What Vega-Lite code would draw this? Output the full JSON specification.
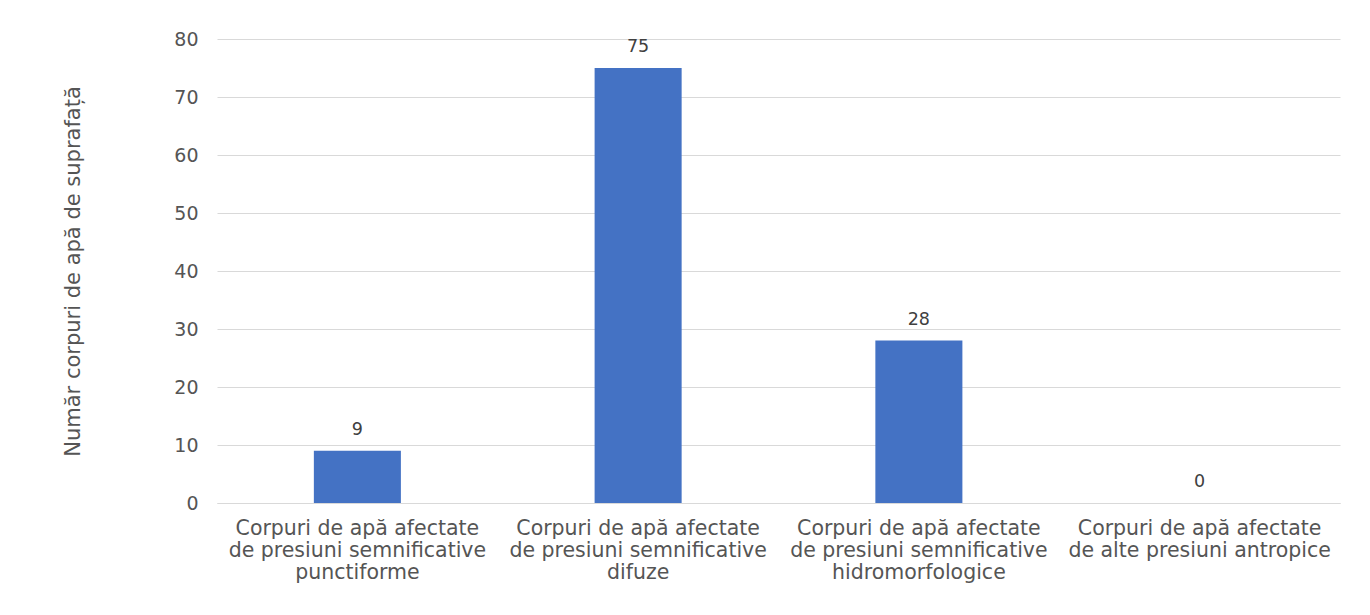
{
  "$schema": "https://vega.github.io/schema/vega-lite/v6.json",
  "width": 1123,
  "height": 464,
  "autosize": {"type": "none"},
  "padding": {"left": 217, "top": 39, "right": 30, "bottom": 112},
  "background": "white",
  "config": {
    "view": {"stroke": null},
    "font": "DejaVu Sans"
  },
  "data": {
    "values": [
      {"categorie": "Corpuri de apă afectate|de presiuni semnificative|punctiforme", "valoare": 9},
      {"categorie": "Corpuri de apă afectate|de presiuni semnificative|difuze", "valoare": 75},
      {"categorie": "Corpuri de apă afectate|de presiuni semnificative|hidromorfologice", "valoare": 28},
      {"categorie": "Corpuri de apă afectate|de alte presiuni antropice", "valoare": 0}
    ]
  },
  "encoding": {
    "x": {
      "field": "categorie",
      "type": "nominal",
      "sort": null,
      "scale": {"paddingInner": 0.69, "paddingOuter": 0.345},
      "axis": {
        "title": null,
        "labelAngle": 0,
        "labelExpr": "split(datum.label, '|')",
        "labelFontSize": 20.5,
        "labelColor": "#555555",
        "labelLineHeight": 22,
        "labelPadding": 15,
        "labelLimit": 400,
        "ticks": false,
        "domainColor": "#d9d9d9",
        "domainWidth": 1
      }
    },
    "y": {
      "field": "valoare",
      "type": "quantitative",
      "scale": {"domain": [0, 80]},
      "axis": {
        "title": "Număr corpuri  de apă de suprafață",
        "titleFontSize": 21,
        "titleFontWeight": "normal",
        "titleColor": "#555555",
        "titleX": -144,
        "titleBaseline": "middle",
        "values": [0, 10, 20, 30, 40, 50, 60, 70, 80],
        "labelFontSize": 19,
        "labelColor": "#555555",
        "labelPadding": 19,
        "ticks": false,
        "domain": false,
        "gridColor": "#d9d9d9",
        "gridWidth": 1
      }
    }
  },
  "layer": [
    {"mark": {"type": "bar", "color": "#4472C4"}},
    {
      "mark": {"type": "text", "baseline": "bottom", "dy": -12, "fontSize": 17.5, "color": "#404040"},
      "encoding": {"text": {"field": "valoare", "type": "quantitative"}}
    }
  ]
}
